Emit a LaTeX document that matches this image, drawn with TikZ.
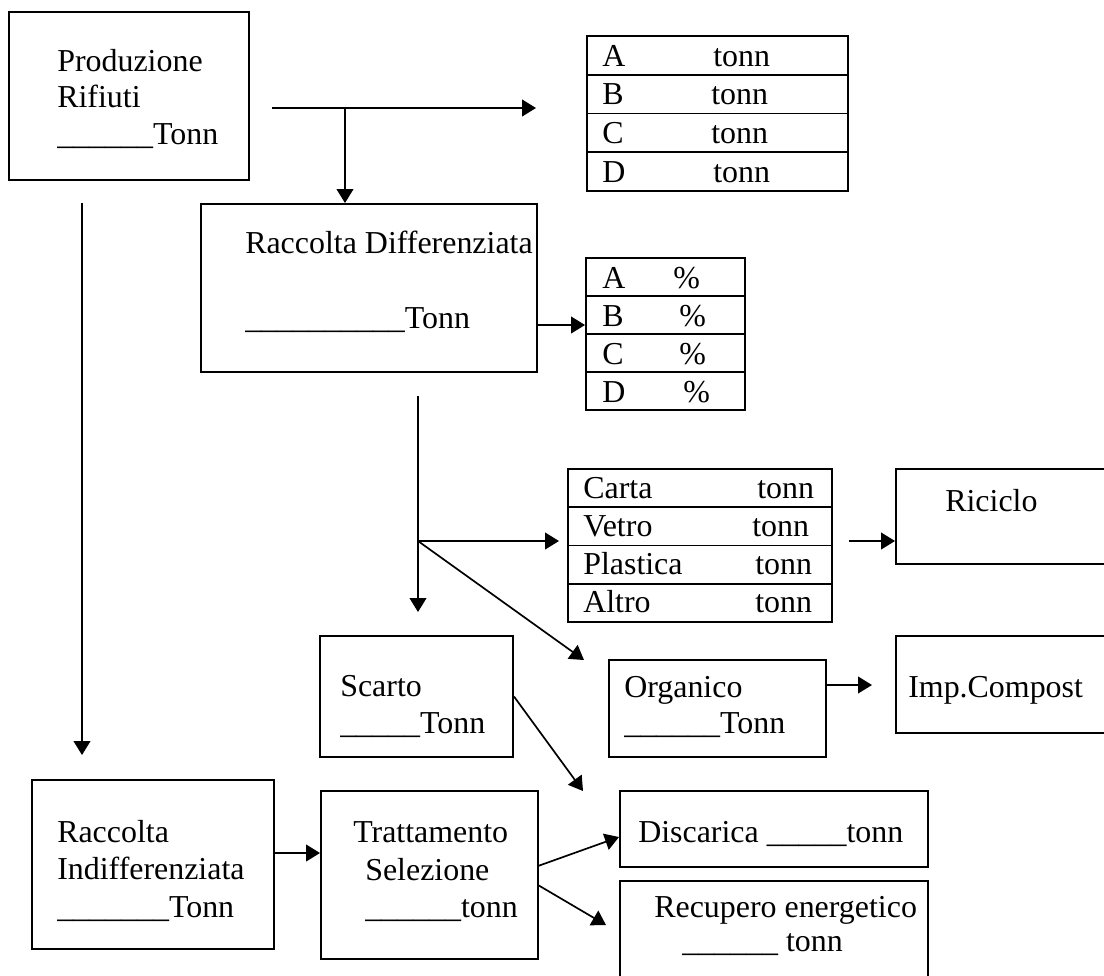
\documentclass[tikz,border=0pt]{standalone}
\usepackage{fontspec}
\setmainfont{Liberation Serif}
\usetikzlibrary{arrows.meta}
\usetikzlibrary{fit}

\begin{document}
\begin{tikzpicture}[x=0.025cm,y=-0.025cm,
	box/.style={draw,line width=1.4pt,inner sep=0pt},
	cell/.style={draw,line width=1.4pt,inner sep=0pt},
	txt/.style={anchor=base west,inner sep=0pt,font=\fontsize{22.7}{26.3}\selectfont},
	arr/.style={line width=1.2pt,-{Triangle[length=0.35cm,width=0.42cm]}}]
	
	\useasboundingbox (0,0) rectangle (1104,975);
	\clip (0,0) rectangle (1104,975);
	
	% boxes
	\node[box, fit={(9,12) (249,180)}] (prod) {};
	\node[box, fit={(201,204) (537,372)}] (rd) {};
	\node[box, fit={(896,469) (1115,564)}] (ric) {};
	\node[box, fit={(320,636) (513,757)}] (sc) {};
	\node[box, fit={(609,660) (826,757)}] (org) {};
	\node[box, fit={(896,636) (1115,733)}] (imp) {};
	\node[box, fit={(32,780) (274,949)}] (ri) {};
	\node[box, fit={(321,791) (538,959)}] (tr) {};
	\node[box, fit={(620,791) (928,867)}] (disc) {};
	\node[box, fit={(620,881) (928,990)}] (rec) {};
	
	% box texts
	\foreach \t [count=\k from 0] in {Produzione,Rifiuti,\_\_\_\_\_\_Tonn}
		\node[txt] (prod-\k) at (57,71+36.5*\k) {\t};
	\node[txt] (rd-0) at (245,253) {Raccolta Differenziata};
	\node[txt] (rd-1) at (245,328) {\_\_\_\_\_\_\_\_\_\_Tonn};
	\node[txt] (ric-0) at (945,511) {Riciclo};
	\node[txt] (sc-0) at (340,696) {Scarto};
	\node[txt] (sc-1) at (340,733) {\_\_\_\_\_Tonn};
	\node[txt] (org-0) at (624,697) {Organico};
	\node[txt] (org-1) at (624,733) {\_\_\_\_\_\_Tonn};
	\node[txt] (imp-0) at (908,697) {Imp.Compost};
	\foreach \t [count=\k from 0] in {Raccolta,Indifferenziata,\_\_\_\_\_\_\_Tonn}
		\node[txt] (ri-\k) at (57,842+37.5*\k) {\t};
	\node[txt] (tr-0) at (353,842) {Trattamento};
	\node[txt] (tr-1) at (365,880) {Selezione};
	\node[txt] (tr-2) at (365,917) {\_\_\_\_\_\_tonn};
	\node[txt] (disc-0) at (638,842) {Discarica \_\_\_\_\_tonn};
	\node[txt] (rec-0) at (654,917) {Recupero energetico};
	\node[txt] (rec-1) at (682,951) {\_\_\_\_\_\_ tonn};
	
	% tables
	\foreach \l/\x [count=\i from 0] in {A/713,B/711,C/711,D/713}{
		\pgfmathsetmacro\ytop{36+38.75*\i}
		\pgfmathsetmacro\ybot{36+38.75*(\i+1)}
		\node[cell, fit={(587,\ytop) (848,\ybot)}] (ab\i) {};
		\node[txt] (abl\i) at (602,\ytop+30) {\l};
		\node[txt] (abr\i) at (\x,\ytop+30) {tonn};
	}
	\foreach \l/\x [count=\i from 0] in {A/673,B/679,C/679,D/683}{
		\pgfmathsetmacro\ytop{258+38*\i}
		\pgfmathsetmacro\ybot{258+38*(\i+1)}
		\node[cell, fit={(586,\ytop) (745,\ybot)}] (pc\i) {};
		\node[txt] (pcl\i) at (602,\ytop+30) {\l};
		\node[txt] (pcr\i) at (\x,\ytop+30) {\%};
	}
	\foreach \l/\x [count=\i from 0] in {Carta/757,Vetro/752,Plastica/755,Altro/755}{
		\pgfmathsetmacro\ytop{469+38.25*\i}
		\pgfmathsetmacro\ybot{469+38.25*(\i+1)}
		\node[cell, fit={(568,\ytop) (832,\ybot)}] (ca\i) {};
		\node[txt] (cal\i) at (583,\ytop+29) {\l};
		\node[txt] (car\i) at (\x,\ytop+29) {tonn};
	}
	
	% connectors
	\coordinate (pa) at (272,108);
	\coordinate (pb) at (536,108);
	\coordinate (pj) at (345,108);
	\draw[arr] (pa) -- (pb);
	\draw[arr] (pj) -- (pj |- rd.north);
	
	\coordinate (rdo) at (537,325);
	\draw[arr] (rdo) -- (pc1.west |- rdo);
	
	\coordinate (va) at (418,396);
	\coordinate (vj) at (418,541);
	\coordinate (vb) at (418,612);
	\coordinate (vc) at (559,541);
	\coordinate (vd) at (584,660);
	\draw[arr] (va) -- (vb);
	\draw[arr] (vj) -- (vc);
	\draw[arr] (vj) -- (vd);
	
	\coordinate (ra) at (849,541);
	\draw[arr] (ra) -- (ric.west |- ra);
	
	\coordinate (oa) at (826,685);
	\coordinate (ob) at (872,685);
	\draw[arr] (oa) -- (ob);
	
	\coordinate (sb) at (583,791);
	\draw[arr] (sc.east) -- (sb);
	
	\coordinate (qa) at (82,203);
	\coordinate (qb) at (82,755);
	\draw[arr] (qa) -- (qb);
	
	\coordinate (ia) at (274,853);
	\draw[arr] (ia) -- (tr.west |- ia);
	
	\coordinate (ta) at (538,866);
	\coordinate (tb) at (619,837);
	\coordinate (tc) at (538,885);
	\coordinate (td) at (606,925);
	\draw[arr] (ta) -- (tb);
	\draw[arr] (tc) -- (td);
	
\end{tikzpicture}
\end{document}
